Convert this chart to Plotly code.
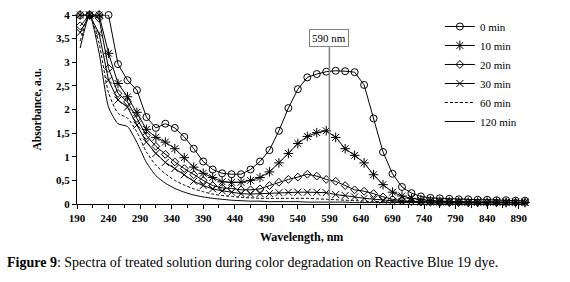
import plotly.graph_objects as go

wavelength = [195, 210, 225, 240, 255, 270, 285, 300, 315, 330, 345, 360,
              375, 390, 405, 420, 435, 450, 465, 480, 495, 510, 525, 540,
              555, 570, 585, 600, 615, 630, 645, 660, 675, 690, 705, 720,
              735, 750, 765, 780, 795, 810, 825, 840, 855, 870, 885, 900]

abs_0 = [4.0, 4.0, 4.0, 4.0, 2.96, 2.62, 2.41, 1.84, 1.61, 1.70, 1.61, 1.42,
         1.17, 0.90, 0.73, 0.65, 0.63, 0.63, 0.73, 0.90, 1.14, 1.55, 2.03, 2.43,
         2.68, 2.75, 2.80, 2.82, 2.81, 2.79, 2.52, 1.81, 1.10, 0.64, 0.36, 0.23,
         0.16, 0.13, 0.12, 0.11, 0.10, 0.10, 0.09, 0.09, 0.08, 0.08, 0.07, 0.07]

abs_10 = [4.0, 4.0, 4.0, 3.19, 2.55, 2.27, 1.94, 1.58, 1.41, 1.31, 1.17, 0.98,
          0.78, 0.65, 0.56, 0.47, 0.46, 0.46, 0.50, 0.56, 0.68, 0.87, 1.07, 1.28,
          1.43, 1.51, 1.55, 1.41, 1.17, 1.03, 0.87, 0.62, 0.41, 0.25, 0.17, 0.12,
          0.09, 0.07, 0.06, 0.05, 0.05, 0.04, 0.04, 0.04, 0.04, 0.03, 0.03, 0.03]

abs_20 = [3.77, 4.0, 3.93, 2.87, 2.34, 2.16, 1.81, 1.45, 1.22, 1.05, 0.89, 0.75,
          0.62, 0.50, 0.39, 0.34, 0.33, 0.30, 0.30, 0.32, 0.39, 0.46, 0.52, 0.57,
          0.63, 0.59, 0.52, 0.48, 0.39, 0.30, 0.27, 0.22, 0.15, 0.10, 0.07, 0.05,
          0.04, 0.04, 0.03, 0.03, 0.03, 0.03, 0.03, 0.03, 0.03, 0.03, 0.03, 0.03]

abs_30 = [3.63, 4.0, 3.61, 2.62, 2.20, 2.05, 1.67, 1.31, 1.07, 0.88, 0.75, 0.62,
          0.48, 0.39, 0.32, 0.28, 0.25, 0.22, 0.21, 0.22, 0.22, 0.24, 0.25, 0.25,
          0.25, 0.25, 0.24, 0.20, 0.18, 0.15, 0.12, 0.10, 0.08, 0.06, 0.05, 0.05,
          0.04, 0.04, 0.04, 0.04, 0.04, 0.04, 0.04, 0.04, 0.04, 0.04, 0.04, 0.04]

abs_60 = [3.45, 4.0, 3.40, 2.35, 1.92, 1.82, 1.52, 1.10, 0.82, 0.64, 0.50, 0.40,
          0.32, 0.26, 0.21, 0.18, 0.16, 0.14, 0.13, 0.12, 0.12, 0.12, 0.12, 0.12,
          0.12, 0.11, 0.10, 0.09, 0.08, 0.07, 0.06, 0.05, 0.05, 0.04, 0.04, 0.04,
          0.04, 0.04, 0.04, 0.04, 0.03, 0.03, 0.03, 0.03, 0.03, 0.03, 0.03, 0.03]

abs_120 = [3.30, 4.0, 3.20, 2.05, 1.70, 1.64, 1.30, 0.88, 0.60, 0.44, 0.33, 0.25,
           0.19, 0.15, 0.12, 0.10, 0.08, 0.07, 0.06, 0.06, 0.05, 0.05, 0.05, 0.05,
           0.04, 0.04, 0.04, 0.04, 0.04, 0.03, 0.03, 0.03, 0.03, 0.03, 0.03, 0.03,
           0.03, 0.02, 0.02, 0.02, 0.02, 0.02, 0.02, 0.02, 0.02, 0.02, 0.02, 0.02]

series_names = ["0 min", "10 min", "20 min", "30 min", "60 min", "120 min"]
marker_line_wl = [590, 590]
marker_line_abs = [0, 3.32]
marker_label = "590 nm"

y_ticks = [0, 0.5, 1, 1.5, 2, 2.5, 3, 3.5, 4]
x_ticks = [190, 240, 290, 340, 390, 440, 490, 540, 590, 640, 690, 740, 790, 840, 890]

FONT = "Liberation Serif, Times New Roman, serif"
fig = go.Figure()

styles = [
    (abs_0, dict(symbol="circle-open", size=7, color="black", line=dict(width=1))),
    (abs_10, dict(symbol="asterisk-open", size=8, color="black", line=dict(width=1))),
    (abs_20, dict(symbol="diamond-open", size=6, color="black", line=dict(width=1))),
    (abs_30, dict(symbol="x-thin-open", size=7, color="black", line=dict(width=1))),
]
for (vals, mk), name in zip(styles, series_names[:4]):
    fig.add_trace(go.Scatter(x=wavelength, y=vals, name=name, mode="lines+markers",
                             line=dict(color="black", width=1), marker=mk,
                             cliponaxis=False))

fig.add_trace(go.Scatter(x=wavelength, y=abs_60, name=series_names[4], mode="lines",
                         line=dict(color="black", width=1, dash="3px,2px", shape="spline",
                                   smoothing=0.6)))
fig.add_trace(go.Scatter(x=wavelength, y=abs_120, name=series_names[5], mode="lines",
                         line=dict(color="black", width=1, shape="spline", smoothing=0.6)))

fig.add_trace(go.Scatter(x=marker_line_wl, y=marker_line_abs, mode="lines",
                         line=dict(color="#808080", width=1.5), showlegend=False,
                         hoverinfo="skip"))

fig.add_annotation(x=marker_line_wl[1], y=marker_line_abs[1], xref="x", yref="y",
                   text=marker_label, showarrow=False, yanchor="bottom",
                   font=dict(family=FONT, size=11, color="black"),
                   bordercolor="#808080", borderwidth=1, borderpad=2, bgcolor="white")

fig.add_annotation(x=0.5, y=-0.175, xref="paper", yref="paper", text="<b>Wavelength, nm</b>",
                   showarrow=False, yanchor="middle", font=dict(family=FONT, size=12, color="black"))
fig.add_annotation(x=-0.0915, y=0.5, xref="paper", yref="paper", text="<b>Absorbance, a.u.</b>",
                   showarrow=False, textangle=-90, xanchor="center", yanchor="middle",
                   font=dict(family=FONT, size=11.5, color="black"))
fig.add_annotation(x=-0.1607, y=-0.312, xref="paper", yref="paper",
                   text="<b>Figure 9</b>: Spectra of treated solution during color degradation on Reactive Blue 19 dye.",
                   showarrow=False, xanchor="left", yanchor="middle",
                   font=dict(family=FONT, size=14, color="black"))

fig.update_layout(
    width=570, height=282,
    margin=dict(l=77, r=45, t=15, b=78, autoexpand=False),
    paper_bgcolor="white", plot_bgcolor="white",
    separators=", ",
    font=dict(family=FONT, size=11, color="black"),
    legend=dict(x=0.81, y=1.016, xanchor="left", yanchor="top",
                font=dict(family=FONT, size=11, color="black"),
                bgcolor="rgba(0,0,0,0)", tracegroupgap=0, itemwidth=30),
    xaxis=dict(range=[190, 900], tickvals=x_ticks, ticks="outside", ticklen=4,
               tickcolor="black", showline=True, linecolor="black", linewidth=1,
               showgrid=False, zeroline=False,
               tickfont=dict(family=FONT, size=11, color="black", weight="bold"),
               minor=dict(dtick=25, tick0=190, ticks="outside", ticklen=3, tickcolor="black")),
    yaxis=dict(range=[0, 4], tickvals=y_ticks, ticks="outside", ticklen=4,
               tickcolor="black", showline=True, linecolor="black", linewidth=1,
               showgrid=False, zeroline=False,
               tickfont=dict(family=FONT, size=11, color="black", weight="bold")),
)

fig.write_html("out.html", config={"displayModeBar": False},
               post_script="document.body.style.margin='0';document.body.style.overflow='hidden';")
